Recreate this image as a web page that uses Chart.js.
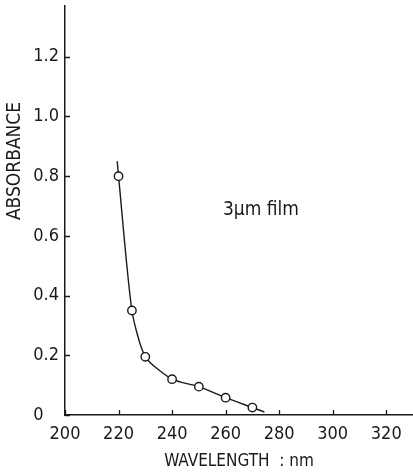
<!DOCTYPE html>
<html>
<head>
<meta charset="utf-8">
<script src="https://cdn.jsdelivr.net/npm/chart.js@4"></script>
<style>
  html, body { margin: 0; padding: 0; background: #fff; overflow: hidden; }
  canvas { display: block; }
</style>
</head>
<body>
<canvas id="c" width="413" height="472"></canvas>
<script>
// Measured absorbance of the film
const wavelength = [220, 225, 230, 240, 250, 260, 270];
const absorbance = [0.80, 0.35, 0.195, 0.12, 0.095, 0.058, 0.025];

// Ends of the drawn curve beyond the first and last measurement
const curveWavelength = [219.5, 220, 225, 230, 240, 250, 260, 270, 274.5];
const curveAbsorbance = [0.85, 0.80, 0.35, 0.195, 0.12, 0.095, 0.058, 0.025, 0.01];

const xTicks = [200, 220, 240, 260, 280, 300, 320];
const yTicks = [0, 0.2, 0.4, 0.6, 0.8, 1.0, 1.2];

const xTitle = 'WAVELENGTH  : nm';
const yTitle = 'ABSORBANCE';
const note = '3\u00B5m film';

const FONT = "'Liberation Sans Narrow', 'DejaVu Sans Condensed', sans-serif";
const INK = '#1a1a1a';

// Inward tick marks, axis titles and the film note
const decorations = {
  id: 'decorations',
  afterDraw(chart) {
    const { ctx, chartArea: a, scales: { x, y } } = chart;
    ctx.save();
    ctx.strokeStyle = INK;
    ctx.lineWidth = 1.3;
    ctx.beginPath();
    xTicks.forEach(v => {
      const px = Math.round(x.getPixelForValue(v)) + 0.5;
      ctx.moveTo(px, a.bottom);
      ctx.lineTo(px, a.bottom - 5);
    });
    yTicks.forEach(v => {
      const py = Math.round(y.getPixelForValue(v)) + 0.5;
      ctx.moveTo(a.left, py);
      ctx.lineTo(a.left + 5, py);
    });
    ctx.stroke();

    ctx.fillStyle = INK;
    ctx.textAlign = 'center';
    ctx.textBaseline = 'middle';
    ctx.font = '17px ' + FONT;
    ctx.fillText(xTitle, (a.left + a.right) / 2, 462);

    ctx.save();
    ctx.translate(15, 161);
    ctx.rotate(-Math.PI / 2);
    ctx.font = '19px ' + FONT;
    ctx.fillText(yTitle, 0, 0);
    ctx.restore();

    ctx.font = '19px ' + FONT;
    ctx.textAlign = 'left';
    ctx.fillText(note, x.getPixelForValue(259), y.getPixelForValue(0.685));
    ctx.restore();
  }
};

new Chart(document.getElementById('c'), {
  type: 'scatter',
  data: {
    datasets: [
      {
        label: 'curve',
        data: curveWavelength.map((w, i) => ({ x: w, y: curveAbsorbance[i] })),
        showLine: true,
        borderColor: INK,
        borderWidth: 1.4,
        pointRadius: 0,
        tension: 0.22,
        order: 2
      },
      {
        label: 'measured',
        data: wavelength.map((w, i) => ({ x: w, y: absorbance[i] })),
        showLine: false,
        pointRadius: 4.2,
        pointBackgroundColor: '#fff',
        pointBorderColor: INK,
        pointBorderWidth: 1.4,
        order: 1
      }
    ]
  },
  options: {
    responsive: false,
    animation: false,
    events: [],
    layout: { autoPadding: false, padding: { top: 6, right: 0, left: 0, bottom: 0 } },
    plugins: { legend: { display: false }, tooltip: { enabled: false } },
    scales: {
      x: {
        type: 'linear',
        min: 200,
        max: 330,
        afterFit(s) { s.height = 57; s.paddingLeft = 0; s.paddingRight = 0; },
        afterBuildTicks(s) { s.ticks = xTicks.map(v => ({ value: v })); },
        ticks: { color: INK, font: { family: FONT, size: 18 }, padding: 9, maxRotation: 0 },
        grid: { display: false, drawTicks: false },
        border: { display: true, color: INK, width: 1.5 }
      },
      y: {
        type: 'linear',
        min: 0,
        max: 1.37,
        afterFit(s) { s.width = 65; s.paddingTop = 0; s.paddingBottom = 0; },
        afterBuildTicks(s) { s.ticks = yTicks.map(v => ({ value: v })); },
        ticks: {
          color: INK,
          font: { family: FONT, size: 18 },
          padding: 6,
          callback: v => (v === 0 ? '0   ' : v.toFixed(1))
        },
        grid: { display: false, drawTicks: false },
        border: { display: true, color: INK, width: 1.5 }
      }
    }
  },
  plugins: [decorations]
});
</script>
</body>
</html>
